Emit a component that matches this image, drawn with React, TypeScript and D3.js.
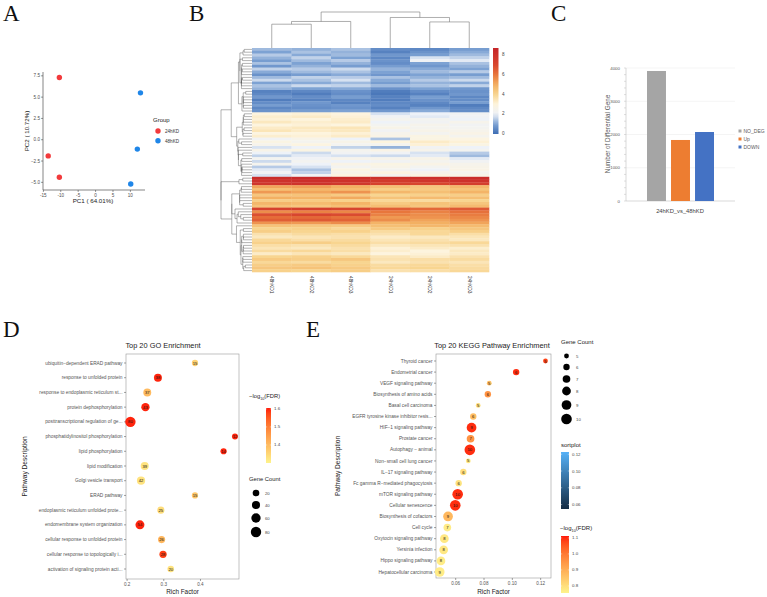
import * as d3 from 'd3';

const SANS = "'Liberation Sans', Arial, Helvetica, sans-serif";
const SERIF = "'Liberation Serif', 'Times New Roman', serif";

// ---------- A: PCA ----------
const pcaGroups = ['24hKD', '48hKD'];
const pcaGroup = ['24hKD', '24hKD', '24hKD', '48hKD', '48hKD', '48hKD'];
const pcaPC1 = [-10.4, -13.6, -10.4, 12.9, 12.0, 10.1];
const pcaPC2 = [7.3, -1.9, -4.4, 5.5, -1.1, -5.2];
const pcaXTicks = [-15, -10, -5, 0, 5, 10];
const pcaYTicks = [-5, -2.5, 0, 2.5, 5, 7.5];

// ---------- B: heatmap ----------
const heatSamples = ['48hKD1', '48hKD2', '48hKD3', '24hKD1', '24hKD2', '24hKD3'];
const heatRows: number[][] = [
  [1.3, 1.2, 1.4, 0.6, 0.5, 0.9],
  [1.0, 1.4, 1.2, 0.4, 0.7, 1.1],
  [1.5, 1.1, 1.3, 0.8, 0.9, 1.3],
  [1.2, 1.6, 1.0, 0.5, 1.8, 1.6],
  [0.9, 1.3, 1.5, 0.7, 2.1, 1.9],
  [1.4, 1.0, 1.2, 0.6, 1.0, 1.4],
  [0.8, 1.2, 0.9, 0.9, 0.8, 1.2],
  [1.6, 1.5, 1.7, 1.2, 1.1, 1.0],
  [1.1, 1.3, 1.4, 1.0, 1.3, 1.5],
  [0.7, 0.9, 1.1, 0.8, 1.0, 0.9],
  [1.3, 1.6, 1.5, 1.4, 1.2, 1.3],
  [1.7, 1.4, 1.8, 1.1, 1.5, 1.7],
  [1.0, 1.1, 1.3, 0.9, 1.2, 1.1],
  [1.4, 1.7, 1.6, 1.3, 1.4, 1.6],
  [1.2, 1.0, 1.1, 0.7, 1.0, 0.8],
  [0.4, 0.5, 0.7, 0.3, 0.6, 0.7],
  [0.5, 0.3, 0.6, 0.2, 0.4, 0.8],
  [0.8, 0.6, 0.9, 0.4, 0.9, 0.5],
  [0.3, 0.4, 0.5, 0.3, 0.7, 0.6],
  [0.6, 0.8, 0.4, 0.5, 0.5, 0.9],
  [0.9, 0.7, 0.8, 0.6, 0.4, 0.3],
  [0.5, 0.6, 0.7, 0.4, 0.8, 0.5],
  [0.7, 0.9, 1.0, 0.8, 1.1, 0.6],
  [3.0, 3.1, 3.0, 1.8, 2.0, 2.2],
  [3.2, 3.3, 3.1, 2.2, 1.9, 2.1],
  [3.1, 3.0, 3.2, 2.4, 2.3, 2.0],
  [3.4, 3.2, 3.3, 2.0, 2.2, 2.5],
  [3.0, 3.1, 3.0, 2.3, 2.5, 2.2],
  [3.3, 3.4, 3.5, 2.6, 2.4, 2.3],
  [3.5, 3.3, 3.4, 2.2, 2.6, 2.5],
  [2.9, 3.0, 3.1, 2.5, 2.3, 2.7],
  [3.2, 3.1, 3.3, 2.7, 2.8, 2.4],
  [2.2, 2.6, 2.0, 1.4, 2.8, 2.9],
  [2.8, 2.4, 2.6, 3.0, 3.3, 3.1],
  [2.5, 2.9, 2.3, 2.4, 3.1, 2.8],
  [1.8, 2.0, 1.6, 1.2, 2.2, 2.0],
  [2.6, 2.8, 2.4, 2.7, 2.5, 2.3],
  [2.0, 1.7, 2.2, 2.1, 1.8, 1.5],
  [1.6, 1.9, 1.8, 1.7, 1.9, 1.3],
  [2.3, 2.1, 2.5, 2.5, 2.6, 1.9],
  [1.7, 2.3, 2.0, 2.2, 2.4, 2.2],
  [2.4, 2.0, 2.7, 2.8, 2.7, 2.5],
  [1.5, 1.8, 2.3, 2.6, 2.3, 2.6],
  [1.9, 1.4, 2.8, 2.3, 2.0, 2.7],
  [2.1, 1.6, 2.6, 2.9, 2.5, 2.4],
  [1.8, 2.2, 2.9, 2.4, 2.8, 2.6],
  [8.3, 8.4, 8.2, 8.0, 8.1, 8.3],
  [8.0, 8.1, 8.0, 7.6, 7.8, 8.0],
  [7.8, 7.9, 7.7, 7.2, 7.0, 7.4],
  [5.2, 5.3, 5.0, 4.6, 4.4, 4.8],
  [4.6, 4.8, 4.7, 4.2, 4.3, 4.5],
  [5.4, 5.2, 5.5, 4.8, 4.6, 4.9],
  [4.4, 4.5, 4.3, 4.0, 4.1, 4.2],
  [5.0, 4.9, 5.1, 4.5, 4.7, 4.6],
  [4.2, 4.3, 4.1, 3.9, 3.8, 4.0],
  [4.8, 4.7, 4.9, 4.3, 4.5, 4.4],
  [4.5, 4.4, 4.6, 4.6, 4.4, 4.7],
  [7.2, 7.4, 7.1, 6.5, 6.3, 6.6],
  [5.6, 5.8, 5.7, 6.0, 5.8, 6.1],
  [6.8, 7.0, 6.9, 5.8, 5.6, 5.9],
  [6.2, 6.3, 6.1, 5.4, 5.5, 5.7],
  [6.5, 6.6, 6.4, 5.6, 5.2, 5.5],
  [5.5, 5.4, 5.6, 4.9, 5.0, 5.2],
  [4.5, 4.4, 4.3, 4.6, 4.8, 4.7],
  [4.0, 4.1, 3.9, 4.3, 4.1, 4.4],
  [4.2, 4.0, 4.1, 3.8, 3.9, 4.2],
  [3.6, 3.8, 3.7, 3.6, 3.9, 3.7],
  [3.4, 3.5, 3.6, 3.3, 3.4, 3.5],
  [3.9, 3.7, 3.8, 3.5, 3.6, 3.4],
  [4.1, 4.2, 4.0, 3.7, 3.8, 3.9],
  [3.7, 3.6, 3.8, 3.4, 3.5, 3.6],
  [3.5, 3.4, 3.6, 3.1, 3.3, 3.2],
  [3.8, 3.9, 3.7, 3.2, 3.0, 3.4],
  [3.3, 3.5, 3.4, 3.0, 3.1, 3.3],
  [4.0, 4.1, 3.9, 3.5, 3.3, 3.6],
  [4.3, 4.2, 4.4, 3.6, 3.7, 3.8],
  [3.9, 3.8, 4.0, 3.4, 3.6, 3.5],
  [4.2, 4.3, 4.1, 3.8, 3.9, 3.7],
  [4.4, 4.5, 4.3, 3.9, 4.0, 3.8],
  [4.1, 4.0, 4.2, 3.6, 3.7, 3.9],
];
const heatLegendTicks = [0, 2, 4, 6, 8];

// ---------- C: DEG counts ----------
const degComparison = '24hKD_vs_48hKD';
const degCategories = ['NO_DEG', 'Up', 'DOWN'];
const degCounts = [3910, 1835, 2075];
const degTicks = [0, 1000, 2000, 3000, 4000];

// ---------- D: GO ----------
const goTerms = [
  'ubiquitin−dependent ERAD pathway',
  'response to unfolded protein',
  'response to endoplasmic reticulum st...',
  'protein dephosphorylation',
  'posttranscriptional regulation of ge...',
  'phosphatidylinositol phosphorylation',
  'lipid phosphorylation',
  'lipid modification',
  'Golgi vesicle transport',
  'ERAD pathway',
  'endoplasmic reticulum unfolded prote...',
  'endomembrane system organization',
  'cellular response to unfolded protein',
  'cellular response to topologically i...',
  'activation of signaling protein acti...',
];
const goRichFactor = [0.385, 0.284, 0.255, 0.25, 0.209, 0.494, 0.463, 0.248, 0.238, 0.385, 0.292, 0.235, 0.294, 0.298, 0.319];
const goGeneCount = [15, 38, 37, 43, 80, 12, 14, 39, 42, 15, 25, 54, 26, 28, 20];
const goLogFDR = [1.36, 1.6, 1.4, 1.6, 1.6, 1.6, 1.6, 1.33, 1.33, 1.38, 1.34, 1.6, 1.41, 1.58, 1.33];
const goXTicks = [0.2, 0.3, 0.4];
const goColorTicks = [1.4, 1.5, 1.6];
const goSizeTicks = [20, 40, 60, 80];

// ---------- E: KEGG ----------
const keggTerms = [
  'Thyroid cancer',
  'Endometrial cancer',
  'VEGF signaling pathway',
  'Biosynthesis of amino acids',
  'Basal cell carcinoma',
  'EGFR tyrosine kinase inhibitor resis...',
  'HIF−1 signaling pathway',
  'Prostate cancer',
  'Autophagy − animal',
  'Non−small cell lung cancer',
  'IL−17 signaling pathway',
  'Fc gamma R−mediated phagocytosis',
  'mTOR signaling pathway',
  'Cellular senescence',
  'Biosynthesis of cofactors',
  'Cell cycle',
  'Oxytocin signaling pathway',
  'Yersinia infection',
  'Hippo signaling pathway',
  'Hepatocellular carcinoma',
];
const keggRichFactor = [0.1234, 0.1027, 0.0837, 0.0827, 0.0759, 0.0724, 0.0712, 0.0705, 0.07, 0.0689, 0.0654, 0.0621, 0.0614, 0.0597, 0.0546, 0.0541, 0.052, 0.0515, 0.0496, 0.0487];
const keggGeneCount = [5, 6, 5, 6, 5, 6, 9, 7, 10, 5, 6, 6, 10, 10, 9, 7, 8, 8, 8, 9];
const keggLogFDR = [1.08, 1.1, 0.87, 0.95, 0.8, 0.87, 1.1, 0.95, 1.1, 0.78, 0.8, 0.79, 1.1, 1.1, 0.88, 0.77, 0.78, 0.78, 0.77, 0.77];
const keggXTicks = [0.06, 0.08, 0.1, 0.12];
const keggSizeTicks = [5, 6, 7, 8, 9, 10];
const keggSortTicks = [0.06, 0.08, 0.1, 0.12];
const keggColorTicks = [0.8, 0.9, 1.0, 1.1];

// ---------- helpers ----------
type TreeNode = { pos: number; h: number; members: number[]; left?: TreeNode; right?: TreeNode };

// order-preserving average-linkage clustering (leaf order is the display order)
function clusterOrdered(vectors: number[][]): TreeNode {
  const n = vectors.length;
  const dist: number[][] = vectors.map(a => vectors.map(b => Math.sqrt(d3.sum(a, (v, k) => (v - b[k]) ** 2))));
  let nodes: TreeNode[] = vectors.map((_, i) => ({ pos: i, h: 0, members: [i] }));
  const link = (A: TreeNode, B: TreeNode) => d3.mean(A.members, i => d3.mean(B.members, j => dist[i][j]) as number) as number;
  while (nodes.length > 1) {
    let best = 0;
    let bestD = Infinity;
    for (let k = 0; k < nodes.length - 1; k++) {
      const d = link(nodes[k], nodes[k + 1]);
      if (d < bestD) {
        bestD = d;
        best = k;
      }
    }
    const a = nodes[best];
    const b = nodes[best + 1];
    const merged: TreeNode = { pos: (a.pos + b.pos) / 2, h: Math.max(bestD, a.h, b.h), members: [...a.members, ...b.members], left: a, right: b };
    nodes = [...nodes.slice(0, best), merged, ...nodes.slice(best + 2)];
  }
  void n;
  return nodes[0];
}

function elbows(node: TreeNode, out: number[][]) {
  if (!node.left || !node.right) return;
  out.push([node.left.pos, node.h, node.right.pos, node.h]);
  out.push([node.left.pos, node.h, node.left.pos, node.left.h]);
  out.push([node.right.pos, node.h, node.right.pos, node.right.h]);
  elbows(node.left, out);
  elbows(node.right, out);
}

const fmt1 = d3.format('.1f');
const fmt2 = d3.format('.2f');

// ---------- panels ----------
function PcaPanel() {
  const x = d3.scaleLinear().domain([-15.1, 14.2]).range([43, 145]);
  const y = d3.scaleLinear().domain([-5.9, 7.95]).range([190, 72]);
  const color = d3.scaleOrdinal<string, string>().domain(pcaGroups).range(['#f23a3c', '#1f86e8']);
  const [x0, x1] = x.range();
  const [y0, y1] = y.range();
  return (
    <g fontFamily={SANS}>
      <line x1={x0} x2={x0} y1={y1} y2={y0} stroke="#333" strokeWidth={0.6} />
      <line x1={x0} x2={x1} y1={y0} y2={y0} stroke="#333" strokeWidth={0.6} />
      {pcaXTicks.map(t => (
        <g key={t}>
          <line x1={x(t)} x2={x(t)} y1={y0} y2={y0 + 2} stroke="#333" strokeWidth={0.5} />
          <text x={x(t)} y={y0 + 6.5} textAnchor="middle" fontSize={4.6} fill="#4d4d4d">{t}</text>
        </g>
      ))}
      {pcaYTicks.map(t => (
        <g key={t}>
          <line x1={x0 - 2} x2={x0} y1={y(t)} y2={y(t)} stroke="#333" strokeWidth={0.5} />
          <text x={x0 - 3} y={y(t) + 1.6} textAnchor="end" fontSize={4.6} fill="#4d4d4d">{fmt1(t)}</text>
        </g>
      ))}
      {pcaPC1.map((v, i) => (
        <circle key={i} cx={x(v)} cy={y(pcaPC2[i])} r={2.7} fill={color(pcaGroup[i])} />
      ))}
      <text x={(x0 + x1) / 2 - 1} y={203} textAnchor="middle" fontSize={6.2} fill="#222">PC1 ( 64.01%)</text>
      <text transform={`translate(29,${(y0 + y1) / 2}) rotate(-90)`} textAnchor="middle" fontSize={6.2} fill="#222">PC2 ( 10.72%)</text>
      <text x={153} y={121.5} fontSize={6} fill="#222">Group</text>
      {pcaGroups.map((g, i) => (
        <g key={g}>
          <circle cx={158} cy={131 + i * 9.8} r={2.7} fill={color(g)} />
          <text x={165} y={132.7 + i * 9.8} fontSize={4.6} fill="#333">{g}</text>
        </g>
      ))}
    </g>
  );
}

function HeatmapPanel() {
  const x = d3.scaleBand<string>().domain(heatSamples).range([252, 489]);
  const rowIdx = heatRows.map((_, i) => i);
  const y = d3.scaleBand<number>().domain(rowIdx).range([48, 272]);
  const color = d3
    .scaleLinear<string>()
    .domain([0, 1, 2, 3, 4, 5, 6, 7, 8.7])
    .range(['#3e6db4', '#7da2d3', '#eef2f8', '#fdf4de', '#f8d590', '#f3b062', '#e8763c', '#d8462e', '#c52429'])
    .clamp(true);

  const rowTree = clusterOrdered(heatRows);
  const colTree = clusterOrdered(heatSamples.map((_, j) => heatRows.map(r => r[j])));
  const rowSegs: number[][] = [];
  elbows(rowTree, rowSegs);
  const colSegs: number[][] = [];
  elbows(colTree, colSegs);

  const rowPos = d3.scaleLinear().domain([0, heatRows.length - 1]).range([48 + y.bandwidth() / 2, 272 - y.bandwidth() / 2]);
  const rowH = d3.scaleSqrt().domain([0, rowTree.h]).range([252, 221]);
  const colPos = d3.scaleLinear().domain([0, heatSamples.length - 1]).range([252 + x.bandwidth() / 2, 489 - x.bandwidth() / 2]);
  const colH = d3.scaleSqrt().domain([0, colTree.h]).range([48, 12]);

  const legY = d3.scaleLinear().domain([0, 8.7]).range([133.5, 48]);
  const stops = d3.range(0, 1.0001, 0.05);

  return (
    <g fontFamily={SANS}>
      <defs>
        <linearGradient id="heatGrad" x1="0" y1="1" x2="0" y2="0">
          {stops.map(s => (
            <stop key={s} offset={s} stopColor={color(s * 8.7)} />
          ))}
        </linearGradient>
      </defs>
      {heatRows.map((row, i) =>
        row.map((v, j) => (
          <rect key={`${i}-${j}`} x={x(heatSamples[j])} y={y(i)} width={x.bandwidth() + 0.3} height={y.bandwidth() + 0.3} fill={color(v)} />
        )),
      )}
      {rowSegs.map((s, i) => (
        <line key={i} x1={rowH(s[1])} y1={rowPos(s[0])} x2={rowH(s[3])} y2={rowPos(s[2])} stroke="#555" strokeWidth={0.45} />
      ))}
      {colSegs.map((s, i) => (
        <line key={i} x1={colPos(s[0])} y1={colH(s[1])} x2={colPos(s[2])} y2={colH(s[3])} stroke="#777" strokeWidth={0.6} />
      ))}
      {heatSamples.map(s => {
        const cx = (x(s) as number) + x.bandwidth() / 2 - 1.6;
        return (
          <text key={s} transform={`translate(${cx},276) rotate(90)`} fontSize={4.8} fill="#333">
            {s}
          </text>
        );
      })}
      <rect x={493} y={48} width={5.5} height={86} fill="url(#heatGrad)" />
      {heatLegendTicks.map(t => (
        <text key={t} x={502} y={legY(t) + 1.6} fontSize={4.6} fill="#444">{t}</text>
      ))}
    </g>
  );
}

function DegPanel() {
  const y = d3.scaleLinear().domain([0, 4000]).range([201, 68]);
  const x = d3.scaleBand<string>().domain(degCategories).range([647, 714]).paddingInner(0.21);
  const color = d3.scaleOrdinal<string, string>().domain(degCategories).range(['#a5a5a5', '#ed7d31', '#4472c4']);
  const axisX = 626;
  const right = 735;
  return (
    <g fontFamily={SANS}>
      {degTicks.map(t => (
        <g key={t}>
          {t > 0 && <line x1={axisX} x2={right} y1={y(t)} y2={y(t)} stroke="#e8e8e8" strokeWidth={0.5} />}
          <text x={620} y={y(t) + 1.5} textAnchor="end" fontSize={4.4} fill="#595959">{t}</text>
        </g>
      ))}
      {y.ticks(20).map(t => (
        <line key={t} x1={axisX - 2} x2={axisX} y1={y(t)} y2={y(t)} stroke="#bfbfbf" strokeWidth={0.5} />
      ))}
      <line x1={axisX} x2={axisX} y1={y(4000)} y2={y(0)} stroke="#bfbfbf" strokeWidth={0.6} />
      <line x1={axisX} x2={right} y1={y(0)} y2={y(0)} stroke="#bfbfbf" strokeWidth={0.6} />
      {degCategories.map((c, i) => (
        <rect key={c} x={x(c)} y={y(degCounts[i])} width={x.bandwidth()} height={y(0) - y(degCounts[i])} fill={color(c)} />
      ))}
      <text x={680} y={213} textAnchor="middle" fontSize={5.8} fill="#404040">{degComparison}</text>
      <text transform={`translate(610,134) rotate(-90)`} textAnchor="middle" fontSize={6.3} fill="#595959">Number of Differential Gene</text>
      {degCategories.map((c, i) => (
        <g key={c}>
          <rect x={738.5} y={129.5 + i * 8} width={3} height={3} fill={color(c)} />
          <text x={743.5} y={132.6 + i * 8} fontSize={5} fill="#595959">{c}</text>
        </g>
      ))}
    </g>
  );
}

type BubbleProps = {
  title: string;
  titleX: number;
  terms: string[];
  rich: number[];
  counts: number[];
  logFdr: number[];
  box: [number, number, number, number];
  rowRange: [number, number];
  xDomain: [number, number];
  xTicks: number[];
  fmt: (v: number) => string;
  size: d3.ScaleRadial<number, number>;
  color: (v: number) => string;
  yTitleX: number;
};

function BubblePanel(p: BubbleProps) {
  const [left, top, right, bottom] = p.box;
  const x = d3.scaleLinear().domain(p.xDomain).range([left, right]);
  const y = d3.scalePoint<string>().domain(p.terms).range(p.rowRange);
  return (
    <g fontFamily={SANS}>
      <text x={p.titleX} y={348} textAnchor="middle" fontSize={7.4} fill="#222">{p.title}</text>
      <rect x={left} y={top} width={right - left} height={bottom - top} fill="#fff" stroke="#999" strokeWidth={0.6} />
      {p.terms.map(t => (
        <g key={t}>
          <line x1={left - 2} x2={left} y1={y(t)} y2={y(t)} stroke="#444" strokeWidth={0.5} />
          <text x={left - 3.5} y={(y(t) as number) + 1.6} textAnchor="end" fontSize={4.8} fill="#555">{t}</text>
        </g>
      ))}
      {p.xTicks.map(t => (
        <g key={t}>
          <line x1={x(t)} x2={x(t)} y1={bottom} y2={bottom + 2} stroke="#444" strokeWidth={0.5} />
          <text x={x(t)} y={bottom + 7} textAnchor="middle" fontSize={4.6} fill="#555">{p.fmt(t)}</text>
        </g>
      ))}
      {p.terms.map((t, i) => (
        <g key={t}>
          <circle cx={x(p.rich[i])} cy={y(t)} r={p.size(p.counts[i])} fill={p.color(p.logFdr[i])} />
          <text x={x(p.rich[i])} y={(y(t) as number) + 1.5} textAnchor="middle" fontSize={4.2} fill="#111">{p.counts[i]}</text>
        </g>
      ))}
      <text x={(left + right) / 2} y={594} textAnchor="middle" fontSize={6.4} fill="#222">Rich Factor</text>
      <text transform={`translate(${p.yTitleX},${(top + bottom) / 2}) rotate(-90)`} textAnchor="middle" fontSize={6.6} fill="#222">Pathway Description</text>
    </g>
  );
}

function LogTitle({ x, y, size }: { x: number; y: number; size: number }) {
  return (
    <text x={x} y={y} fontSize={size} fill="#222" fontFamily={SANS}>
      −log
      <tspan dy={size * 0.3} fontSize={size * 0.65}>10</tspan>
      <tspan dy={-size * 0.3}>(FDR)</tspan>
    </text>
  );
}

function ColorBar({ id, x, top, bottom, width, scale, domain, ticks, fmt, interp }: {
  id: string; x: number; top: number; bottom: number; width: number; scale: d3.ScaleLinear<number, number>; domain: [number, number]; ticks: number[]; fmt: (v: number) => string; interp: (t: number) => string;
}) {
  const stops = d3.range(0, 1.0001, 0.1);
  void domain;
  return (
    <g fontFamily={SANS}>
      <defs>
        <linearGradient id={id} x1="0" y1="1" x2="0" y2="0">
          {stops.map(s => (
            <stop key={s} offset={s} stopColor={interp(s)} />
          ))}
        </linearGradient>
      </defs>
      <rect x={x} y={top} width={width} height={bottom - top} fill={`url(#${id})`} />
      {ticks.map(t => (
        <g key={t}>
          <line x1={x} x2={x + 1.2} y1={scale(t)} y2={scale(t)} stroke="#fff" strokeWidth={0.4} />
          <line x1={x + width - 1.2} x2={x + width} y1={scale(t)} y2={scale(t)} stroke="#fff" strokeWidth={0.4} />
          <text x={x + width + 3} y={scale(t) + 1.5} fontSize={4.4} fill="#444">{fmt(t)}</text>
        </g>
      ))}
    </g>
  );
}

export default function App() {
  const fdrLow = '#fdf38c';
  const fdrHigh = '#ff1a0a';
  const fdrInterp = d3.interpolateLab(fdrLow, fdrHigh);

  const goColorDomain: [number, number] = [1.3, 1.605];
  const goColor = (v: number) => fdrInterp(Math.max(0, Math.min(1, (v - goColorDomain[0]) / (goColorDomain[1] - goColorDomain[0]))));
  const goSize = d3.scaleRadial().domain([12, 80]).range([3, 5.2]);

  const keggColorDomain: [number, number] = [0.756, 1.112];
  const keggColor = (v: number) => fdrInterp(Math.max(0, Math.min(1, (v - keggColorDomain[0]) / (keggColorDomain[1] - keggColorDomain[0]))));
  const keggSize = d3.scaleRadial().domain([5, 10]).range([2.4, 5.3]);

  const goBar = d3.scaleLinear().domain(goColorDomain).range([463, 408]);
  const keggBar = d3.scaleLinear().domain(keggColorDomain).range([593, 536]);
  const sortDomain: [number, number] = [0.0547, 0.1227];
  const sortBar = d3.scaleLinear().domain(sortDomain).range([509, 452]);
  const sortInterp = d3.interpolateRgb('#132b43', '#56b1f7');

  return (
    <svg width={767} height={597} viewBox="0 0 767 597" style={{ position: 'absolute', left: 0, top: 0, background: '#fff' }}>
      <rect width={767} height={597} fill="#fff" />
      <g fontFamily={SERIF} fontSize={23} fill="#111">
        <text x={3} y={21}>A</text>
        <text x={189} y={21}>B</text>
        <text x={551} y={21}>C</text>
        <text x={3} y={337}>D</text>
        <text x={306} y={337}>E</text>
      </g>
      <PcaPanel />
      <HeatmapPanel />
      <DegPanel />

      <BubblePanel
        title="Top 20 GO Enrichment"
        titleX={163}
        terms={goTerms}
        rich={goRichFactor}
        counts={goGeneCount}
        logFdr={goLogFDR}
        box={[126, 354, 239, 579]}
        rowRange={[363, 569]}
        xDomain={[0.197, 0.505]}
        xTicks={goXTicks}
        fmt={fmt1}
        size={goSize}
        color={goColor}
        yTitleX={27}
      />
      <LogTitle x={249} y={398} size={5.8} />
      <ColorBar id="goGrad" x={266} top={408} bottom={463} width={5} scale={goBar} domain={goColorDomain} ticks={goColorTicks} fmt={fmt1} interp={fdrInterp} />
      <text x={249} y={481} fontSize={5.8} fill="#222" fontFamily={SANS}>Gene Count</text>
      {goSizeTicks.map((t, i) => (
        <g key={t} fontFamily={SANS}>
          <circle cx={256} cy={[493, 505, 518, 532][i]} r={goSize(t)} fill="#000" />
          <text x={265} y={[493, 505, 518, 532][i] + 1.5} fontSize={4.2} fill="#444">{t}</text>
        </g>
      ))}

      <BubblePanel
        title="Top 20 KEGG Pathway Enrichment"
        titleX={492}
        terms={keggTerms}
        rich={keggRichFactor}
        counts={keggGeneCount}
        logFdr={keggLogFDR}
        box={[436, 354, 551, 578]}
        rowRange={[361, 572]}
        xDomain={[0.0461, 0.1273]}
        xTicks={keggXTicks}
        fmt={fmt2}
        size={keggSize}
        color={keggColor}
        yTitleX={340}
      />
      <text x={561} y={344} fontSize={6} fill="#222" fontFamily={SANS}>Gene Count</text>
      {keggSizeTicks.map((t, i) => {
        const cy = [356, 367, 379, 391, 405, 419][i];
        return (
          <g key={t} fontFamily={SANS}>
            <circle cx={566.5} cy={cy} r={keggSize(t)} fill="#000" />
            <text x={576} y={cy + 1.5} fontSize={4.3} fill="#444">{t}</text>
          </g>
        );
      })}
      <text x={561} y={447} fontSize={6} fill="#222" fontFamily={SANS}>sortplot</text>
      <ColorBar id="sortGrad" x={561} top={452} bottom={509} width={8} scale={sortBar} domain={sortDomain} ticks={keggSortTicks} fmt={fmt2} interp={sortInterp} />
      <LogTitle x={560} y={530} size={6} />
      <ColorBar id="keggGrad" x={561} top={536} bottom={593} width={8} scale={keggBar} domain={keggColorDomain} ticks={keggColorTicks} fmt={fmt1} interp={fdrInterp} />
    </svg>
  );
}
